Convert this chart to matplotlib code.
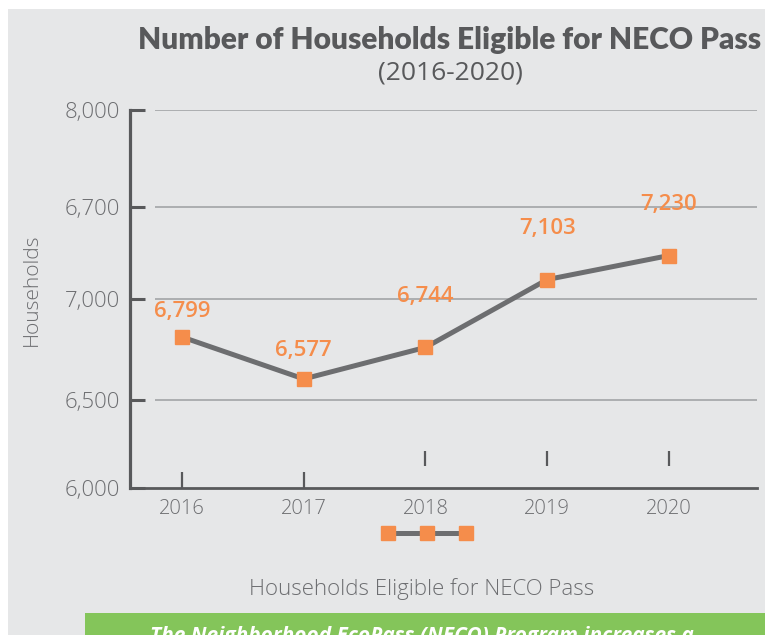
import matplotlib
matplotlib.use("Agg")
import matplotlib.pyplot as plt
from matplotlib.patches import Rectangle
from matplotlib.lines import Line2D
import matplotlib.transforms as mtransforms

# ---- data ----
years = [2016, 2017, 2018, 2019, 2020]
households = [6799, 6577, 6744, 7103, 7230]
value_labels = ["6,799", "6,577", "6,744", "7,103", "7,230"]
label_offsets_px = [25, 28, 51, 51, 51]
ytick_values = [6000, 6468, 7000, 7488, 8000]
ytick_labels = ["6,000", "6,500", "7,000", "6,700", "8,000"]
xtick_labels = ["2016", "2017", "2018", "2019", "2020"]
title = "Number of Households Eligible for NECO Pass"
subtitle = "(2016-2020)"
series_name = "Households Eligible for NECO Pass"
footer = "The Neighborhood EcoPass (NECO) Program increases a"

BG = "#e6e7e8"
TXT = "#6d6e71"
DARK = "#58595b"
ORANGE = "#f58d4b"
LINE = "#6d6e70"
GRID = "#a7a9ac"
GREEN = "#84c55a"
FONT = "Open Sans"

W, H = 765, 635
fig = plt.figure(figsize=(W / 100, H / 100), dpi=100)
fig.patch.set_facecolor("white")
fig.patches.append(Rectangle((8 / W, 0), 1, 1 - 9 / H, transform=fig.transFigure,
                             facecolor=BG, edgecolor="none", zorder=-10))
fig.patches.append(Rectangle((85 / W, 0), 1, 22 / H, transform=fig.transFigure,
                             facecolor=GREEN, edgecolor="none", zorder=-5))

ax_l, ax_r, ax_t, ax_b = 130, 757, 110, 488
ax = fig.add_axes([ax_l / W, 1 - ax_b / H, (ax_r - ax_l) / W, (ax_b - ax_t) / H])
ax.set_facecolor("none")

x0 = 2016 - 52 / 121.7
x1 = 2020 + 88 / 121.7
ax.set_xlim(x0, x1)
ax.set_ylim(6000, 8000)

gx0 = 2016 - 27 / 121.7
ax.hlines(ytick_values[1:], gx0, x1, colors=GRID, linewidth=1.3, zorder=1)

for s in ["top", "right"]:
    ax.spines[s].set_visible(False)
ax.spines["left"].set_color(DARK)
ax.spines["left"].set_linewidth(2.3)
ax.spines["bottom"].set_color(DARK)
ax.spines["bottom"].set_linewidth(2.0)

ax.set_yticks(ytick_values)
ax.set_yticklabels(ytick_labels)
ax.tick_params(axis="y", direction="in", length=10.8, width=2.2, color=DARK,
               pad=7, labelsize=16, labelcolor=TXT)
ax.set_xticks(years)
ax.set_xticklabels(xtick_labels)
ax.tick_params(axis="x", length=0, pad=8, labelsize=14.5, labelcolor=TXT)
for lab in ax.get_xticklabels() + ax.get_yticklabels():
    lab.set_fontfamily(FONT)
    lab.set_fontweight("light")

trans = mtransforms.blended_transform_factory(ax.transData, ax.transAxes)
h = ax_b - ax_t
for i, yr in enumerate(years):
    if i < 2:
        ax.plot([yr, yr], [0, 16 / h], transform=trans, color=DARK, lw=1.6,
                clip_on=False, zorder=3, solid_capstyle="butt")
    else:
        ax.plot([yr, yr], [22 / h, 37 / h], transform=trans, color=DARK, lw=1.6,
                clip_on=False, zorder=3, solid_capstyle="butt")

line, = ax.plot(years, households, color=LINE, lw=3.6, marker="s", markersize=10,
                markerfacecolor=ORANGE, markeredgecolor=ORANGE, zorder=4, clip_on=False)

for x, y, t, off in zip(years, households, value_labels, label_offsets_px):
    ax.annotate(t, (x, y), xytext=(0, off), textcoords="offset pixels",
                ha="center", va="center", color=ORANGE, fontsize=16,
                fontfamily=FONT, fontweight="semibold")

leg_handle = Line2D([], [], color=LINE, lw=3.6, marker="s", markersize=10,
                    markerfacecolor=ORANGE, markeredgecolor=ORANGE)
leg = fig.legend([leg_handle], [""], numpoints=3, handlelength=4.6, handletextpad=0,
                 frameon=False, loc="center", bbox_to_anchor=(427 / W, 1 - 534 / H),
                 borderpad=0, fontsize=14)

fig.text(422 / W, 1 - 589 / H, series_name, ha="center", va="center", color=TXT,
         fontsize=16, fontfamily=FONT, fontweight="light")
fig.text(32 / W, 1 - 290 / H, "Households", rotation=90, ha="center", va="center",
         color=TXT, fontsize=15, fontfamily=FONT, fontweight="light")

fig.text(450 / W, 1 - 40 / H, title, ha="center", va="center", color=DARK,
         fontsize=21.5, fontfamily="Lato", fontweight="heavy")
fig.text(450 / W, 1 - 73 / H, subtitle, ha="center", va="center", color=DARK,
         fontsize=19, fontfamily=FONT, fontweight="normal")

fig.text(150 / W, 1 - 626 / H, footer, ha="left", va="top", color="white",
         fontsize=15, fontfamily=FONT, fontweight="bold", style="italic")

fig.savefig("out.png", dpi=100)
